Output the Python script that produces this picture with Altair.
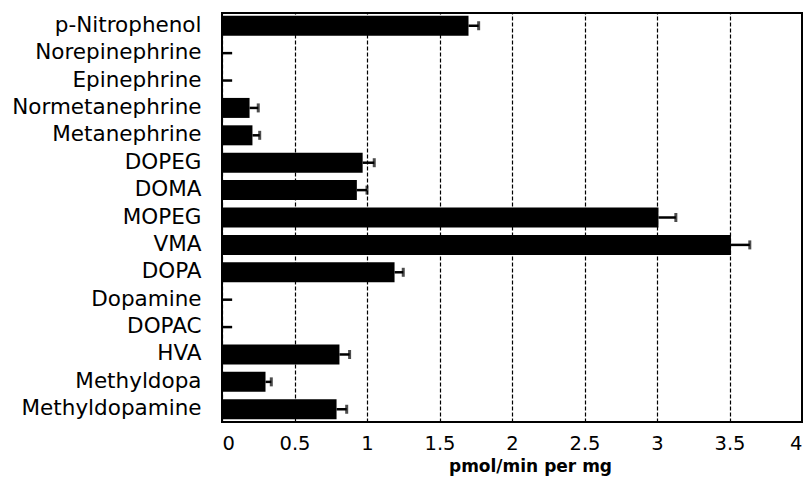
import altair as alt
import pandas as pd

categories = ["p-Nitrophenol", "Norepinephrine", "Epinephrine", "Normetanephrine",
              "Metanephrine", "DOPEG", "DOMA", "MOPEG", "VMA", "DOPA", "Dopamine",
              "DOPAC", "HVA", "Methyldopa", "Methyldopamine"]
values = [1.70, 0.0, 0.0, 0.19, 0.21, 0.97, 0.93, 3.01, 3.51, 1.19, 0.0, 0.0, 0.81, 0.30, 0.79]
errors = [0.07, 0.07, 0.07, 0.06, 0.05, 0.08, 0.07, 0.12, 0.13, 0.06, 0.07, 0.07, 0.07, 0.04, 0.07]
x_ticks = [0, 0.5, 1, 1.5, 2, 2.5, 3, 3.5, 4]

df = pd.DataFrame({"cat": categories, "value": values, "err": errors})
df["hi"] = df["value"] + df["err"]

FONT = "DejaVu Sans"

yenc = alt.Y("cat:N", sort=categories, title=None,
             scale=alt.Scale(paddingInner=0.27, paddingOuter=0.1),
             axis=alt.Axis(labelFont=FONT, labelFontSize=21.5, labelColor="black",
                           labelPadding=21, ticks=False, domain=False, grid=False,
                           labelAlign="right", labelLimit=300))

xenc = alt.X("value:Q", title="pmol/min per mg",
             scale=alt.Scale(domain=[0, 4], nice=False),
             axis=alt.Axis(values=x_ticks, format="~g", labelFont=FONT, labelFontSize=19.5,
                           labelColor="black", labelPadding=12, ticks=False, domain=False,
                           grid=True, gridColor="black", gridDash=[4, 2], gridWidth=1.2,
                           gridOpacity=1, titleFont=FONT, titleFontSize=17,
                           titleFontWeight="bold", titleColor="black", titlePadding=6,
                           titleX=308))

base = alt.Chart(df)

bars = base.mark_bar(color="black").encode(x=xenc, y=yenc)
rules = base.mark_rule(color="black", strokeWidth=2.5).encode(x="value:Q", x2="hi:Q", y=alt.Y("cat:N", sort=categories))
caps = base.transform_filter("datum.value > 0").mark_tick(
    color="black", thickness=3, size=9, orient="vertical").encode(
    x="hi:Q", y=alt.Y("cat:N", sort=categories))

chart = (bars + rules + caps).properties(
    width=580, height=409,
    autosize=alt.AutoSizeParams(type="none"),
    padding={"left": 214, "top": 5, "right": 1, "bottom": 57},
    background="white",
).configure_view(stroke="black", strokeWidth=2)

chart.save("out.html", embed_options={"renderer": "svg", "actions": False})
